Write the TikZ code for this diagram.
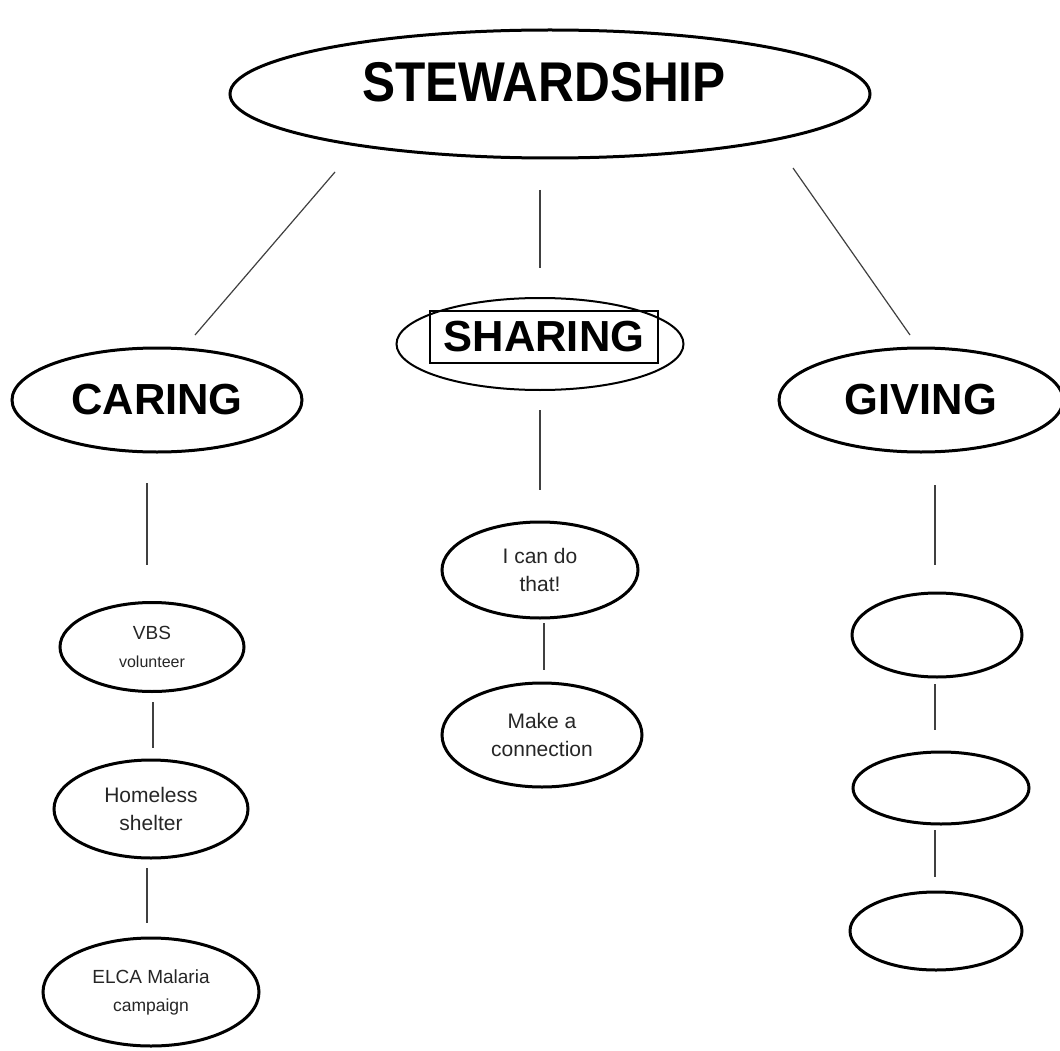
\documentclass[tikz,border=0pt]{standalone}
\usepackage{fontspec}
\setmainfont{Liberation Sans}
\usetikzlibrary{shapes.geometric}
\begin{document}
\begin{tikzpicture}[x=1pt,y=-1pt,
  oval/.style={ellipse,draw,line width=3pt,inner sep=0pt},
  big/.style={oval,font=\fontsize{43.5}{50}\selectfont\bfseries},
  small/.style={oval,align=center,text=black!85,font=\fontsize{21}{28}\selectfont},
  conn/.style={line width=1.2pt,black!75}]
\path[use as bounding box,fill=white] (0,0) rectangle (1060,1051);

% main nodes
\node[oval,minimum width=640pt,minimum height=128pt,font=\fontsize{56}{60}\selectfont\bfseries] (stew) at (550,94)
  {\hspace*{-12pt}\smash{\raisebox{-8pt}{\scalebox{0.885}[1]{STEWARDSHIP}}}};
\node[big,minimum width=290pt,minimum height=104pt] (caring) at (157,400) {CARING};
\node[oval,line width=2pt,minimum width=287pt,minimum height=92pt] (sharing) at (540,344) {};
\node[draw,line width=1.2pt,inner sep=0pt,minimum width=228pt,minimum height=52pt,font=\fontsize{43.5}{50}\selectfont\bfseries] (sharetxt) at (544,337) {SHARING};
\node[big,minimum width=284pt,minimum height=104pt] (giving) at (921,400) {GIVING};

% caring column
\node[small,minimum width=184pt,minimum height=89pt] (vbs) at (152,647)
  {{\fontsize{19}{27}\selectfont VBS}\\{\fontsize{16}{27}\selectfont volunteer}};
\node[small,minimum width=194pt,minimum height=98pt] (home) at (151,809)
  {Homeless\\shelter};
\node[small,minimum width=216pt,minimum height=108pt] (elca) at (151,992)
  {{\fontsize{19}{27}\selectfont ELCA Malaria}\\{\fontsize{17.5}{27}\selectfont campaign}};

% sharing column
\node[small,minimum width=196pt,minimum height=96pt] (cando) at (540,570)
  {I can do\\that!};
\node[small,minimum width=200pt,minimum height=104pt] (make) at (542,735)
  {Make a\\connection};

% giving column
\node[oval,minimum width=170pt,minimum height=84pt] (g1) at (937,635) {};
\node[oval,minimum width=176pt,minimum height=72pt] (g2) at (941,788) {};
\node[oval,minimum width=172pt,minimum height=78pt] (g3) at (936,931) {};

% connector ends
\coordinate (sc1) at (335,172); \coordinate (sc2) at (195,335);
\coordinate (ss1) at (540,190); \coordinate (ss2) at (540,268);
\coordinate (sg1) at (793,168); \coordinate (sg2) at (910,335);
\coordinate (c1) at (147,483); \coordinate (c2) at (147,565);
\coordinate (v1) at (153,702); \coordinate (v2) at (153,748);
\coordinate (h1) at (147,868); \coordinate (h2) at (147,923);
\coordinate (s1) at (540,410); \coordinate (s2) at (540,490);
\coordinate (i1) at (544,623); \coordinate (i2) at (544,670);
\coordinate (gv1) at (935,485); \coordinate (gv2) at (935,565);
\coordinate (ga1) at (935,684); \coordinate (ga2) at (935,730);
\coordinate (gb1) at (935,830); \coordinate (gb2) at (935,877);

\draw[conn] (sc1) -- (sc2);
\draw[conn] (ss1) -- (ss2);
\draw[conn] (sg1) -- (sg2);
\draw[conn] (c1) -- (c2);
\draw[conn] (v1) -- (v2);
\draw[conn] (h1) -- (h2);
\draw[conn] (s1) -- (s2);
\draw[conn] (i1) -- (i2);
\draw[conn] (gv1) -- (gv2);
\draw[conn] (ga1) -- (ga2);
\draw[conn] (gb1) -- (gb2);
\end{tikzpicture}
\end{document}
